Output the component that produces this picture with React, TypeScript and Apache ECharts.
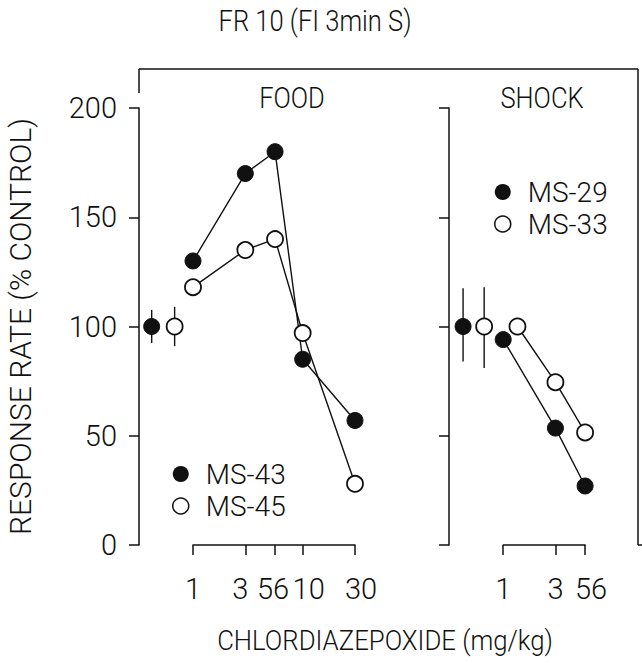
import React, { useEffect, useRef } from "react";
import * as echarts from "echarts";

// ---- data ----
const foodDoses = [1, 3, 5.6, 10, 30];
const ms43Food = [130, 170, 180, 85, 57];
const ms45Food = [118, 135, 140, 97, 28];

const ms29Doses = [1, 3, 5.6];
const ms29Shock = [94, 53.5, 27];
const ms33Doses = [1.35, 3, 5.6];
const ms33Shock = [100, 74.5, 51.5];

// control (saline) points: [plot position, mean, low, high]
const ms43Control = [0.42, 100, 92.4, 107.6];
const ms45Control = [0.68, 100, 91, 109];
const ms29Control = [0.43, 100, 84, 117.5];
const ms33Control = [0.67, 100, 81, 118];

const foodTicks = [1, 3, 5.6, 10, 30];
const shockTicks = [1, 3, 5.6];
const tickLabels = ["1", "3", "56", "10", "30"];

const FONT = "Roboto, 'Liberation Sans', sans-serif";
const W = 300;
const BLACK = "#111";

// hand-lettered label offsets (px) seen in the reference
const foodLabelShift = [0, -5, -2, 6, 6];
const shockLabelShift = [0, 0, 6];

function errorBarSeries(xi: number, rows: number[][]) {
  return {
    type: "custom",
    xAxisIndex: xi,
    yAxisIndex: xi,
    clip: false,
    silent: true,
    z: 1,
    data: rows.map((r) => [r[0], r[2], r[3]]),
    renderItem: (_p: any, api: any) => {
      const a = api.coord([api.value(0), api.value(1)]);
      const b = api.coord([api.value(0), api.value(2)]);
      return {
        type: "line",
        shape: { x1: a[0], y1: a[1], x2: b[0], y2: b[1] },
        style: { stroke: BLACK, lineWidth: 1.4 },
      };
    },
  };
}

const filledStyle = { color: BLACK, borderColor: BLACK, borderWidth: 1, opacity: 1 };
const openStyle = { color: "#fff", borderColor: BLACK, borderWidth: 1.8, opacity: 1 };

function lineSeries(name: string, xi: number, xs: number[], ys: number[], filled: boolean) {
  return {
    name,
    type: "line",
    xAxisIndex: xi,
    yAxisIndex: xi,
    clip: false,
    z: 3,
    symbol: "circle",
    symbolSize: 16,
    data: xs.map((x, i) => [x, ys[i]]),
    lineStyle: { color: BLACK, width: 1.4 },
    itemStyle: filled ? filledStyle : openStyle,
  };
}

function controlSeries(name: string, xi: number, row: number[], filled: boolean) {
  return {
    name,
    type: "scatter",
    xAxisIndex: xi,
    yAxisIndex: xi,
    clip: false,
    z: 3,
    symbol: "circle",
    symbolSize: 16,
    data: [[row[0], row[1]]],
    itemStyle: filled ? filledStyle : openStyle,
    emphasis: { disabled: true },
  };
}

function xAxisDef(gi: number, max: number, ticks: number[], shifts: number[]) {
  const rich: any = {};
  ticks.forEach((_t, i) => {
    const s = shifts[i];
    rich["k" + i] = {
      color: BLACK,
      fontFamily: FONT,
      fontWeight: W,
      fontSize: 29,
      padding: s >= 0 ? [0, 0, 0, 2 * s] : [0, -2 * s, 0, 0],
    };
  });
  return {
    gridIndex: gi,
    type: "log",
    logBase: 10,
    min: 1,
    max,
    offset: 15,
    axisLine: { show: true, lineStyle: { color: BLACK, width: 1.5 } },
    axisTick: { show: true, customValues: ticks, length: 10, lineStyle: { color: BLACK, width: 1.5 } },
    axisLabel: {
      show: true,
      customValues: ticks,
      margin: 14,
      color: BLACK,
      fontFamily: FONT,
      fontWeight: W,
      fontSize: 29,
      rich,
      formatter: (v: number) => {
        let idx = 0;
        ticks.forEach((t, i) => {
          if (Math.abs(t - v) < 1e-6 * Math.max(1, t)) idx = i;
        });
        return `{k${idx}|${tickLabels[foodTicks.indexOf(ticks[idx])]}}`;
      },
    },
    splitLine: { show: false },
    minorTick: { show: false },
  };
}

function yAxisDef(gi: number, offset: number, labels: boolean) {
  return {
    gridIndex: gi,
    type: "value",
    min: 0,
    max: 200,
    interval: 50,
    offset,
    axisLine: { show: true, lineStyle: { color: BLACK, width: 1.5 } },
    axisTick: { show: true, length: 10, lineStyle: { color: BLACK, width: 1.5 } },
    axisLabel: { show: labels, margin: 22, color: BLACK, fontFamily: FONT, fontWeight: W, fontSize: 29 },
    splitLine: { show: false },
    name: labels ? "RESPONSE RATE (% CONTROL)" : "",
    nameLocation: "middle",
    nameGap: 104,
    nameRotate: 90,
    nameTextStyle: { color: BLACK, fontFamily: FONT, fontWeight: W, fontSize: 30 },
  };
}

function legendDef(names: string[], left: number, top: number) {
  return {
    data: [
      { name: names[0], itemStyle: { color: BLACK, borderColor: BLACK, borderWidth: 0 } },
      { name: names[1], itemStyle: { color: "#fff", borderColor: BLACK, borderWidth: 1.5 } },
    ],
    orient: "vertical",
    left,
    top,
    padding: 0,
    icon: "circle",
    itemWidth: 16,
    itemHeight: 16,
    itemGap: 4,
    selectedMode: false,
    textStyle: { color: BLACK, fontFamily: FONT, fontWeight: W, fontSize: 28, padding: [0, 0, 0, 12] },
  };
}

export default function App() {
  const ref = useRef<HTMLDivElement>(null);
  useEffect(() => {
    if (!ref.current) return;
    const chart = echarts.init(ref.current, undefined, { renderer: "svg" });
    const textEl = (text: string, x: number, y: number, size: number, sx = 1) => ({
      type: "text",
      x,
      y,
      scaleX: sx,
      style: { text, fill: BLACK, font: `${W} ${size}px ${FONT}`, align: "center", verticalAlign: "middle" },
    });
    const option: any = {
      animation: false,
      backgroundColor: "#fff",
      textStyle: { fontFamily: FONT },
      grid: [
        { left: 193, top: 108, width: 162, height: 437 },
        { left: 503.2, top: 108, width: 81.9, height: 437 },
      ],
      xAxis: [xAxisDef(0, 30, foodTicks, foodLabelShift), xAxisDef(1, 5.6, shockTicks, shockLabelShift)],
      yAxis: [yAxisDef(0, 54, true), yAxisDef(1, 54.2, false)],
      legend: [legendDef(["MS-43", "MS-45"], 172, 460), legendDef(["MS-29", "MS-33"], 494, 178)],
      series: [
        errorBarSeries(0, [ms43Control, ms45Control]),
        errorBarSeries(1, [ms29Control, ms33Control]),
        lineSeries("MS-43", 0, foodDoses, ms43Food, true),
        lineSeries("MS-45", 0, foodDoses, ms45Food, false),
        controlSeries("MS-43", 0, ms43Control, true),
        controlSeries("MS-45", 0, ms45Control, false),
        lineSeries("MS-29", 1, ms29Doses, ms29Shock, true),
        lineSeries("MS-33", 1, ms33Doses, ms33Shock, false),
        controlSeries("MS-29", 1, ms29Control, true),
        controlSeries("MS-33", 1, ms33Control, false),
      ],
      graphic: [
        { type: "line", shape: { x1: 139, y1: 69, x2: 638, y2: 69 }, style: { stroke: BLACK, lineWidth: 1.5 } },
        { type: "line", shape: { x1: 139, y1: 69, x2: 139, y2: 93 }, style: { stroke: BLACK, lineWidth: 1.5 } },
        { type: "line", shape: { x1: 638, y1: 69, x2: 638, y2: 545 }, style: { stroke: BLACK, lineWidth: 1.5 } },
        { type: "line", shape: { x1: 638, y1: 545, x2: 642, y2: 545 }, style: { stroke: BLACK, lineWidth: 1.5 } },
        textEl("FR 10 (FI 3min S)", 315, 21, 29, 0.88),
        textEl("FOOD", 292, 98, 29, 0.88),
        textEl("SHOCK", 542, 98, 29, 0.88),
        textEl("CHLORDIAZEPOXIDE (mg/kg)", 385, 641, 28, 0.92),
      ],
    };
    chart.setOption(option);
    return () => chart.dispose();
  }, []);
  return <div ref={ref} style={{ position: "fixed", left: 0, top: 0, width: 642, height: 663 }} />;
}
